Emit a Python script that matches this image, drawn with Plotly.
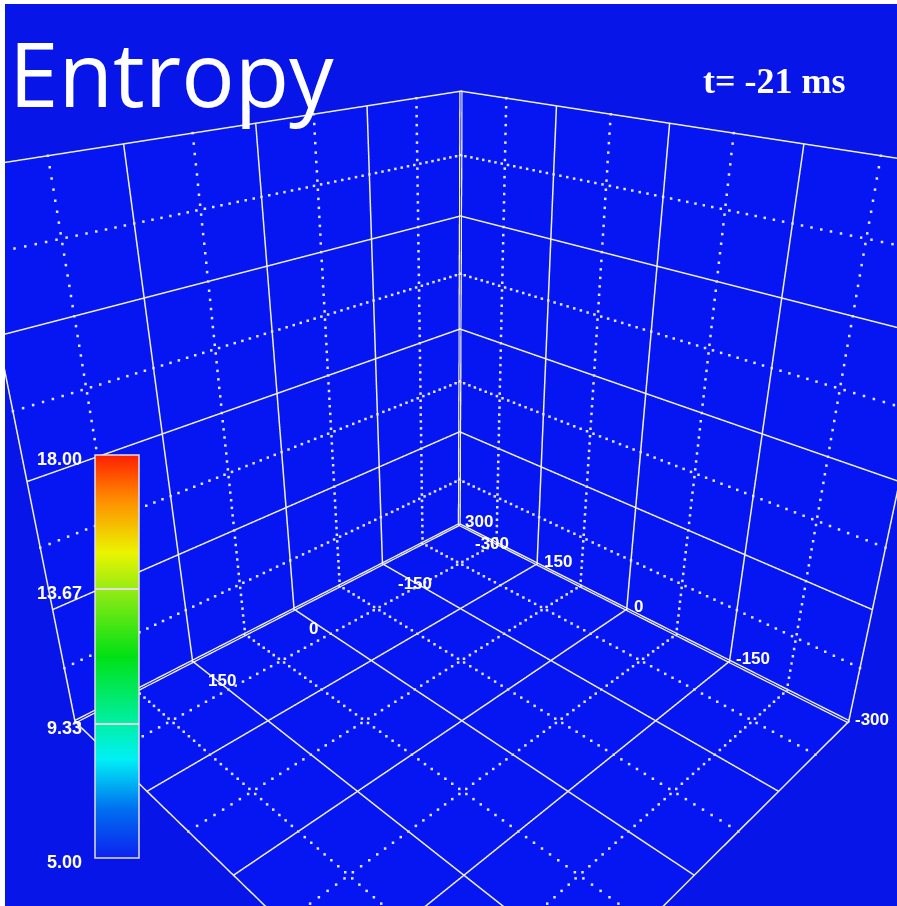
import numpy as np
import plotly.graph_objects as go

# ---------------- data ----------------
axis_ticks = [-300, -150, 0, 150, 300]          # major ticks, both horizontal axes
left_edge_labels = [-300, -150, 0, 150]         # labels visible on the y edge (300 hidden by colour bar)
right_edge_labels = [-300, -150, 0, 150, 300]   # labels visible on the x edge
minor_ticks = [-225, -75, 75, 225]              # dotted minor grid
z_ticks = [-300, -150, 0, 150, 300]             # vertical axis (unlabelled)
axis_range = [-300, 300]
entropy_ticks = [5.00, 9.33, 13.67, 18.00]      # colour bar ticks
entropy_range = [5.00, 18.00]
title_text = "Entropy"
time_text = "t= -21 ms"

# ---------------- style ----------------
wall_blue = "rgb(6,22,242)"
outer_blue = "rgb(8,21,232)"
grid_col = "#f0f0d6"
dot_col = "#e4e4f0"

colorscale = [
    [0.00, "rgb(12,34,240)"],
    [0.12, "rgb(0,110,240)"],
    [0.245, "rgb(0,240,245)"],
    [0.33, "rgb(0,240,170)"],
    [0.50, "rgb(0,225,20)"],
    [0.667, "rgb(150,235,20)"],
    [0.757, "rgb(235,245,0)"],
    [0.89, "rgb(255,140,0)"],
    [1.00, "rgb(255,30,0)"],
]

lo, hi = axis_range
eps = 2          # keep drawn grid just in front of the walls
dot_step = 10    # spacing of the dots of the minor grid (axis units)

# (constant axis, constant value) for the three back planes; the other two axes vary
planes = [("x", hi - eps, "y", "z"), ("y", lo + eps, "x", "z"), ("z", lo + eps, "x", "y")]


def grid_lines(vals):
    xs, ys, zs = [], [], []
    for ca, cv, a1, a2 in planes:
        for va, sa in ((a1, a2), (a2, a1)):
            for v in vals:
                for s in (lo, hi):
                    p = {ca: cv, va: v, sa: s}
                    xs.append(p["x"]); ys.append(p["y"]); zs.append(p["z"])
                xs.append(None); ys.append(None); zs.append(None)
    return xs, ys, zs


def grid_dots(vals):
    xs, ys, zs = [], [], []
    steps = np.arange(lo, hi + 0.1, dot_step)
    for ca, cv, a1, a2 in planes:
        for va, sa in ((a1, a2), (a2, a1)):
            for v in vals:
                for s in steps:
                    p = {ca: cv, va: v, sa: s}
                    xs.append(p["x"]); ys.append(p["y"]); zs.append(p["z"])
    return xs, ys, zs


fig = go.Figure()

# dotted minor grid
dx, dy, dz = grid_dots(minor_ticks)
fig.add_trace(go.Scatter3d(
    x=dx, y=dy, z=dz, mode="markers",
    marker=dict(size=1.3, color=dot_col, symbol="square", line=dict(width=0)),
    hoverinfo="skip", showlegend=False))

# solid major grid
gx, gy, gz = grid_lines(axis_ticks)
fig.add_trace(go.Scatter3d(
    x=gx, y=gy, z=gz, mode="lines",
    line=dict(color=grid_col, width=3),
    hoverinfo="skip", showlegend=False))

# colour bar carrier (invisible markers)
cb_x = (95 - 5) / 892
cb_len = (858 - 455) / 902
cb_y = 1 - ((455 + 858) / 2 - 4) / 902
fig.add_trace(go.Scatter3d(
    x=[0, 0], y=[0, 0], z=[0, 0], mode="markers",
    marker=dict(size=1, color=entropy_range, colorscale=colorscale,
                cmin=entropy_range[0], cmax=entropy_range[1], opacity=0,
                showscale=True,
                colorbar=dict(x=cb_x, xanchor="left", xpad=0, y=cb_y, yanchor="middle",
                              ypad=0, len=cb_len, lenmode="fraction", thickness=44,
                              outlinecolor="#e0e0e0", outlinewidth=1.5,
                              tickmode="array", tickvals=entropy_ticks, ticks="inside",
                              ticklen=44, tickcolor="#e0e0e0", tickwidth=1.5,
                              showticklabels=False, borderwidth=0)),
    hoverinfo="skip", showlegend=False))

# tick labels along the two floor/wall edges (scene annotations)
tick_font = dict(family="Liberation Sans", size=17, color="white")
scene_ann = []
for v in left_edge_labels:
    scene_ann.append(dict(x=hi, y=v, z=lo, text="<b>%d</b>" % v, showarrow=False,
                          xanchor="left", yanchor="top", xshift=14, yshift=-7,
                          font=tick_font))
for v in right_edge_labels:
    scene_ann.append(dict(x=v, y=lo, z=lo, text="<b>%d</b>" % v, showarrow=False,
                          xanchor="left", yanchor="middle", xshift=4, yshift=3,
                          font=tick_font))

ax_common = dict(range=axis_range, autorange=False, tickmode="array",
                 showgrid=False, showbackground=True, backgroundcolor=wall_blue,
                 showticklabels=False, title=dict(text=""), zeroline=False,
                 showline=False, ticks="", showspikes=False)

sh = 0.0140
fig.update_layout(
    width=897, height=906,
    margin=dict(l=5, r=0, t=4, b=0, pad=0),
    paper_bgcolor="white",
    showlegend=False,
    hovermode=False,
    scene=dict(
        domain=dict(x=[0, 1], y=[0, 1]),
        bgcolor=outer_blue,
        aspectmode="cube",
        xaxis=dict(ax_common, tickvals=axis_ticks),
        yaxis=dict(ax_common, tickvals=axis_ticks),
        zaxis=dict(ax_common, tickvals=z_ticks),
        camera=dict(eye=dict(x=-1.0967 + sh, y=1.0967 + sh, z=0.835),
                    center=dict(x=sh, y=sh, z=0.047),
                    up=dict(x=0, y=0, z=1),
                    projection=dict(type="perspective")),
        annotations=scene_ann,
    ),
)

annotations = [
    dict(text=title_text, x=0, y=1, xref="paper", yref="paper", xanchor="left",
         yanchor="top", xshift=2, yshift=-6, showarrow=False,
         font=dict(family="Open Sans", size=89, color="white")),
    dict(text="<b>" + time_text + "</b>", x=(774 - 5) / 892, y=1 - (81 - 4) / 902,
         xref="paper", yref="paper", xanchor="center", yanchor="middle",
         showarrow=False, font=dict(family="Liberation Serif", size=36, color="white")),
]
for v in entropy_ticks:
    frac = (v - entropy_range[0]) / (entropy_range[1] - entropy_range[0])
    annotations.append(dict(
        text="<b>%.2f</b>" % v, x=(84 - 5) / 892, y=cb_y - cb_len / 2 + frac * cb_len,
        xref="paper", yref="paper", xanchor="right", yanchor="middle", yshift=-4,
        showarrow=False, font=dict(family="Liberation Sans", size=18, color="white")))
fig.update_layout(annotations=annotations)

fig.write_html("out.html")
